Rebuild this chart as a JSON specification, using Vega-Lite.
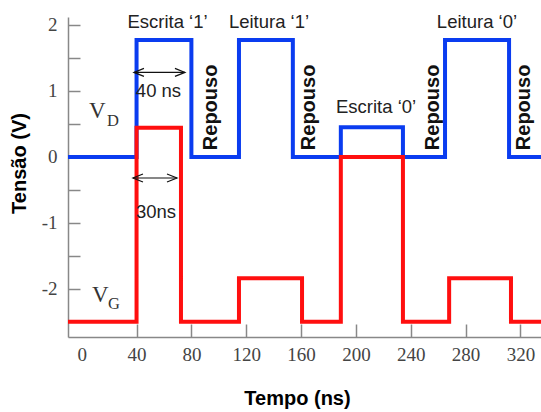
{
  "$schema": "https://vega.github.io/schema/vega-lite/v6.json",
  "width": 473,
  "height": 320,
  "autosize": "none",
  "padding": {"left": 68, "top": 17, "right": 0, "bottom": 75},
  "background": "white",
  "config": {"view": {"stroke": null}},
  "datasets": {
    "vd": [
      {"t": -10, "v": 0}, {"t": 40, "v": 1.77}, {"t": 80, "v": 0}, {"t": 114.7, "v": 1.77},
      {"t": 154, "v": 0}, {"t": 189, "v": 0.45}, {"t": 234.3, "v": 0}, {"t": 265, "v": 1.77},
      {"t": 311.7, "v": 0}, {"t": 335, "v": 0}
    ],
    "vg": [
      {"t": -10, "v": -2.5}, {"t": 40, "v": 0.44}, {"t": 72.4, "v": -2.5}, {"t": 114.7, "v": -1.84},
      {"t": 160.7, "v": -2.5}, {"t": 189, "v": 0}, {"t": 234.3, "v": -2.5}, {"t": 268, "v": -1.84},
      {"t": 313.1, "v": -2.5}, {"t": 335, "v": -2.5}
    ],
    "phases": [
      {"t": 62.6, "v": 1.95, "label": "Escrita ‘1’"},
      {"t": 136.6, "v": 1.95, "label": "Leitura ‘1’"},
      {"t": 214.7, "v": 0.66, "label": "Escrita ‘0’"},
      {"t": 288.3, "v": 1.95, "label": "Leitura ‘0’"},
      {"t": 56, "v": 0.9, "label": "40 ns"},
      {"t": 54.2, "v": -0.93, "label": "30ns"}
    ],
    "rest": [
      {"t": 98.7, "v": 0.75, "label": "Repouso"},
      {"t": 170.2, "v": 0.75, "label": "Repouso"},
      {"t": 260.6, "v": 0.75, "label": "Repouso"},
      {"t": 327, "v": 0.75, "label": "Repouso"}
    ],
    "arrows": [
      {"t1": 38.1, "t2": 75.3, "v": 1.28},
      {"t1": 37.4, "t2": 69.5, "v": -0.32}
    ],
    "heads": [
      {"t": 38.1, "v": 1.28, "side": "L"},
      {"t": 75.3, "v": 1.28, "side": "R"},
      {"t": 37.4, "v": -0.32, "side": "L"},
      {"t": 69.5, "v": -0.32, "side": "R"}
    ],
    "vlabel": [
      {"t": 5.3, "v": 0.59, "label": "V"},
      {"t": 7.5, "v": -2.2, "label": "V"}
    ],
    "vsub": [
      {"t": 18.5, "v": 0.47, "label": "D"},
      {"t": 19.2, "v": -2.31, "label": "G"}
    ]
  },
  "encoding": {
    "x": {
      "field": "t", "type": "quantitative",
      "scale": {"domain": [-10, 335], "nice": false, "zero": false},
      "axis": {
        "title": "Tempo (ns)",
        "values": [0, 40, 80, 120, 160, 200, 240, 280, 320],
        "grid": false,
        "domainColor": "#888", "domainWidth": 1.5,
        "tickColor": "#888", "tickWidth": 1.5, "tickSize": -13,
        "tickOpacity": {"condition": {"test": "datum.value == 0", "value": 0}, "value": 1},
        "labelFont": "Liberation Serif", "labelFontSize": 19, "labelColor": "#444",
        "labelPadding": 21,
        "titleFont": "Liberation Sans", "titleFontSize": 20, "titleFontWeight": "bold", "titleColor": "#000",
        "titleX": 229, "titleY": 67, "titleBaseline": "alphabetic"
      }
    },
    "y": {
      "field": "v", "type": "quantitative",
      "scale": {"domain": [-2.73, 2.12], "nice": false, "zero": false},
      "axis": {
        "title": "Tensão (V)",
        "values": [-2, -1.5, -1, -0.5, 0, 0.5, 1, 1.5, 2],
        "labelExpr": "datum.value % 1 == 0 ? '' + datum.value : ''",
        "grid": false,
        "domainColor": "#888", "domainWidth": 1.5,
        "tickColor": "#888", "tickWidth": 1.5, "tickSize": -12,
        "labelFont": "Liberation Serif", "labelFontSize": 19, "labelColor": "#444",
        "labelPadding": 23,
        "titleFont": "Liberation Sans", "titleFontSize": 20, "titleFontWeight": "bold", "titleColor": "#000",
        "titleAngle": -90, "titleX": -43, "titleY": 146, "titleBaseline": "alphabetic"
      }
    }
  },
  "layer": [
    {
      "data": {"name": "vd"},
      "mark": {"type": "line", "interpolate": "step-after", "color": "#0a3cf0", "strokeWidth": 4, "clip": true},
      "encoding": {}
    },
    {
      "data": {"name": "vg"},
      "mark": {"type": "line", "interpolate": "step-after", "color": "#ff0f0f", "strokeWidth": 4, "clip": true},
      "encoding": {}
    },
    {
      "data": {"name": "phases"},
      "mark": {"type": "text", "font": "Liberation Sans", "fontSize": 18.5, "color": "#222", "align": "center", "baseline": "alphabetic"},
      "encoding": {"text": {"field": "label"}}
    },
    {
      "data": {"name": "rest"},
      "mark": {"type": "text", "font": "Liberation Sans", "fontSize": 20, "fontWeight": "bold", "color": "#111", "align": "center", "baseline": "alphabetic", "angle": 270},
      "encoding": {"text": {"field": "label"}}
    },
    {
      "data": {"name": "arrows"},
      "mark": {"type": "rule", "color": "#111", "strokeWidth": 1.2},
      "encoding": {"x": {"field": "t1", "type": "quantitative"}, "x2": {"field": "t2"}, "y": {"field": "v", "type": "quantitative"}}
    },
    {
      "data": {"name": "heads"},
      "transform": [{"filter": "datum.side == 'L'"}],
      "mark": {"type": "point", "shape": "M 2 -0.8 L 0 0 L 2 0.8", "size": 100, "filled": false, "stroke": "#111", "strokeWidth": 1.2, "opacity": 1},
      "encoding": {}
    },
    {
      "data": {"name": "heads"},
      "transform": [{"filter": "datum.side == 'R'"}],
      "mark": {"type": "point", "shape": "M -2 -0.8 L 0 0 L -2 0.8", "size": 100, "filled": false, "stroke": "#111", "strokeWidth": 1.2, "opacity": 1},
      "encoding": {}
    },
    {
      "data": {"name": "vlabel"},
      "mark": {"type": "text", "font": "Liberation Serif", "fontSize": 23, "color": "#333", "align": "left", "baseline": "alphabetic"},
      "encoding": {"text": {"field": "label"}}
    },
    {
      "data": {"name": "vsub"},
      "mark": {"type": "text", "font": "Liberation Serif", "fontSize": 16.5, "color": "#333", "align": "left", "baseline": "alphabetic"},
      "encoding": {"text": {"field": "label"}}
    }
  ]
}
